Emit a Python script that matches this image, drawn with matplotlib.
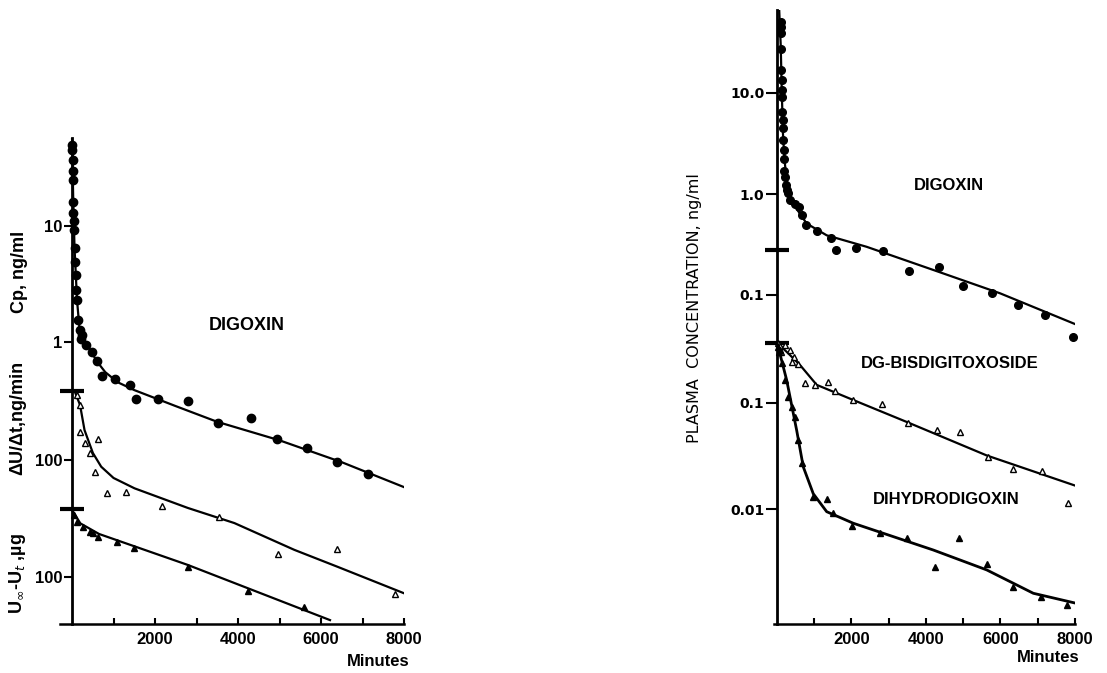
import numpy as np
import matplotlib
matplotlib.use('Agg')
import matplotlib.pyplot as plt

# ---- data ----
# left panel: digoxin plasma conc., urinary excretion rate, amount remaining
cp_t = [5, 10, 15, 20, 25, 30, 35, 40, 45, 60, 75, 90, 105, 120, 150, 180, 210,
        241, 337, 474, 594, 715, 1036, 1398, 1542, 2080, 2803, 3526, 4306, 4932,
        5670, 6393, 7140]
cp_v = [50, 45, 37, 30, 25, 16, 13, 11, 9.3, 6.5, 4.9, 3.8, 2.8, 2.3, 1.55, 1.26, 1.07,
        1.15, 0.94, 0.82, 0.68, 0.51, 0.48, 0.43, 0.32, 0.32, 0.31, 0.20, 0.22, 0.145,
        0.121, 0.092, 0.073]
cp_fit_t = [0, 30, 60, 120, 180, 250, 400, 600, 800, 1100, 1500, 2500, 3500, 5000, 6500, 8060]
cp_fit_v = [57, 16, 6.5, 2.3, 1.3, 1.1, 0.9, 0.68, 0.55, 0.45, 0.385, 0.28, 0.205, 0.142, 0.092, 0.055]

du_t = [128, 193, 193, 313, 434, 619, 554, 851, 1301, 2161, 3542, 4971, 6393, 7783]
du_v = [363, 298, 175, 139, 116, 151, 79, 52, 53, 40, 32, 15.5, 17.1, 7.0]
du_fit_t = [60, 130, 193, 301, 502, 703, 1000, 1506, 2791, 3912, 5358, 6400, 8000]
du_fit_v = [394, 340, 298, 181, 115, 87.5, 70, 57, 38.6, 28.6, 16.8, 12.0, 7.1]

u_t = [48, 128, 272, 434, 513, 634, 1077, 1494, 2802, 4248, 5590]
u_v = [342, 300, 272, 246, 241, 220, 199, 177, 121, 76, 55]
u_fit_t = [0, 200, 650, 1988, 2791, 6217]
u_fit_v = [379, 290, 235, 160, 127, 42.5]

# right panel: digoxin and its metabolites
dg_t = [100, 105, 110, 115, 120, 125, 130, 135, 140, 150, 160, 170, 180, 190, 200, 215, 230,
        268, 295, 349, 483, 599, 663, 779, 1066, 1442, 1584, 2121, 2838, 3552, 4349,
        5001, 5764, 6478, 7195, 7938]
dg_v = [50, 45, 39, 27, 17, 13.5, 10.7, 9.1, 6.5, 5.4, 4.5, 3.4, 2.7, 2.2, 1.7, 1.47, 1.23,
        1.1, 1.02, 0.87, 0.80, 0.75, 0.62, 0.49, 0.43, 0.37, 0.28, 0.29, 0.275, 0.173, 0.19,
        0.124, 0.104, 0.080, 0.063, 0.0387]
dg_fit_t = [60, 100, 130, 160, 200, 260, 394, 600, 797, 1334, 2408, 4196, 5987, 8089]
dg_fit_v = [66, 30, 10, 4, 2.2, 1.38, 0.87, 0.65, 0.51, 0.39, 0.30, 0.177, 0.104, 0.050]

bis_t = [40, 80, 120, 215, 349, 464, 395, 572, 752, 1020, 1377, 1557, 2048, 2811, 3525,
         4287, 4913, 5673, 6344, 7106, 7820]
bis_v = [0.36, 0.34, 0.30, 0.35, 0.31, 0.27, 0.24, 0.23, 0.154, 0.147, 0.157, 0.13, 0.106,
         0.097, 0.065, 0.056, 0.053, 0.031, 0.024, 0.023, 0.0114]
bis_fit_t = [20, 304, 617, 1066, 2048, 3482, 5630, 8089]
bis_fit_v = [0.36, 0.29, 0.226, 0.147, 0.106, 0.066, 0.032, 0.0163]

dh_t = [30, 60, 80, 126, 215, 303, 395, 483, 572, 663, 974, 1334, 1511, 2005, 2765, 3482,
        4242, 4894, 5646, 6344, 7079, 7793]
dh_v = [0.33, 0.30, 0.31, 0.234, 0.163, 0.114, 0.092, 0.074, 0.045, 0.027, 0.0131, 0.0124,
        0.0092, 0.0069, 0.0060, 0.00535, 0.00286, 0.00535, 0.0031, 0.00188, 0.00151, 0.00126]
dh_fit_t = [8, 260, 529, 706, 974, 1334, 2048, 4196, 5630, 6881, 8045]
dh_fit_v = [0.36, 0.163, 0.055, 0.025, 0.014, 0.0095, 0.0074, 0.00415, 0.0027, 0.00163, 0.00131]

x_ticks = [1000, 2000, 3000, 4000, 5000, 6000, 7000, 8000]
x_labels = ['', '2000', '', '4000', '', '6000', '', '8000']

W, H = 1107, 673
fig = plt.figure(figsize=(W / 100, H / 100), dpi=100)

LEFT_FONT = ['Liberation Sans', 'DejaVu Sans']
RIGHT_FONT = ['DejaVu Sans']


def rect(x0, x1, top, bottom):
    return [x0 / W, 1 - bottom / H, (x1 - x0) / W, (bottom - top) / H]


def ylims(ref, ref_px, decade_px, top_px, bottom_px):
    lg = np.log10(ref)
    return (10 ** (lg - (bottom_px - ref_px) / decade_px),
            10 ** (lg + (ref_px - top_px) / decade_px))


def make_axes(r, xlim, ylim, base=None):
    ax = fig.add_axes(r, sharex=base)
    ax.set_facecolor('none')
    ax.set_yscale('log')
    ax.set_xlim(*xlim)
    ax.set_ylim(*ylim)
    for s in ['top', 'right']:
        ax.spines[s].set_visible(False)
    ax.spines['left'].set_position(('data', 0))
    ax.spines['left'].set_linewidth(2)
    ax.spines['bottom'].set_linewidth(1.8)
    ax.yaxis.set_minor_locator(matplotlib.ticker.NullLocator())
    if base is not None:
        ax.spines['left'].set_visible(False)
        ax.spines['bottom'].set_visible(False)
        ax.tick_params(axis='x', bottom=False, labelbottom=False)
    return ax


def yticks(ax, vals, labels, bar, font, size, ticklen):
    ax.set_yticks(vals)
    ax.set_yticklabels(labels, fontfamily=font, fontweight='bold', fontsize=size)
    ax.tick_params(axis='y', which='major', direction='out', length=ticklen, width=1.5, pad=1)
    if bar is not None:
        ax.set_yticks([bar], minor=True)
        ax.set_yticklabels([''], minor=True)
        ax.tick_params(axis='y', which='minor', direction='inout', length=17, width=3)


def xaxis(ax, font):
    ax.set_xticks(x_ticks)
    ax.set_xticklabels(x_labels, fontfamily=font, fontweight='bold', fontsize=12)
    ax.tick_params(axis='x', direction='in', length=4, width=1.5, pad=6)


# ---------------- left panel ----------------
lr = rect(60, 404, 138, 624)
lx = (-290, 8000)
ax_cp = make_axes(lr, lx, ylims(10, 226, 116, 138, 624))
ax_du = make_axes(lr, lx, ylims(100, 460, 116, 138, 624), base=ax_cp)
ax_u = make_axes(lr, lx, ylims(100, 577, 116, 138, 624), base=ax_cp)

ax_cp.plot(cp_fit_t, cp_fit_v, color='black', lw=1.6)
ax_cp.plot(cp_t, cp_v, 'o', color='black', ms=6, clip_on=False)
ax_du.plot(du_fit_t, du_fit_v, color='black', lw=1.6)
ax_du.plot(du_t, du_v, '^', mfc='white', mec='black', mew=1, ms=4.5, clip_on=False)
ax_u.plot(u_fit_t, u_fit_v, color='black', lw=1.6)
ax_u.plot(u_t, u_v, '^', color='black', ms=5, clip_on=False)

yticks(ax_cp, [10, 1], ['10', '1'], None, LEFT_FONT, 12, 6)
yticks(ax_du, [100], ['100'], 394, LEFT_FONT, 12, 6)
yticks(ax_u, [100], ['100'], 385, LEFT_FONT, 12, 6)
xaxis(ax_cp, LEFT_FONT)


def px(x, y):
    return x / W, 1 - y / H


fig.text(*px(19, 272), 'Cp, ng/ml', rotation=90, ha='center', va='center',
         fontfamily=LEFT_FONT, fontweight='bold', fontsize=13)
fig.text(*px(18, 418), 'ΔU/Δt,ng/min', rotation=90, ha='center', va='center',
         fontfamily=LEFT_FONT, fontweight='bold', fontsize=13)
fig.text(*px(17, 574), r'U$_{\infty}$-U$_t$ ,µg', rotation=90, ha='center', va='center',
         fontfamily=LEFT_FONT, fontweight='bold', fontsize=13)
fig.text(*px(247, 325), 'DIGOXIN', ha='center', va='center',
         fontfamily=LEFT_FONT, fontweight='bold', fontsize=13)
fig.text(*px(410, 662), 'Minutes', ha='right', va='center',
         fontfamily=LEFT_FONT, fontweight='bold', fontsize=12)

# ---------------- right panel ----------------
rr = rect(774, 1075, 10, 624)
rx = (-80, 8000)
ax_dg = make_axes(rr, rx, ylims(1, 194, 101, 10, 624))
ax_met = make_axes(rr, rx, ylims(0.1, 402.7, 106.6, 10, 624), base=ax_dg)

ax_dg.plot(dg_fit_t, dg_fit_v, color='black', lw=1.6)
ax_dg.plot(dg_t, dg_v, 'o', color='black', ms=5.5, clip_on=False)
ax_met.plot(bis_fit_t, bis_fit_v, color='black', lw=1.6)
ax_met.plot(bis_t, bis_v, '^', mfc='white', mec='black', mew=1, ms=4.5, clip_on=False)
ax_met.plot(dh_fit_t, dh_fit_v, color='black', lw=2)
ax_met.plot(dh_t, dh_v, '^', color='black', ms=5, clip_on=False)

yticks(ax_dg, [10, 1, 0.1], ['10.0', '1.0', '0.1'], 0.279, RIGHT_FONT, 10, 8)
yticks(ax_met, [0.1, 0.01], ['0.1', '0.01'], 0.363, RIGHT_FONT, 10, 8)
xaxis(ax_dg, LEFT_FONT)

fig.text(*px(695, 308), 'PLASMA  CONCENTRATION, ng/ml', rotation=90, ha='center', va='center',
         fontfamily=RIGHT_FONT, fontsize=11.5)
fig.text(*px(949, 185), 'DIGOXIN', ha='center', va='center',
         fontfamily=LEFT_FONT, fontweight='bold', fontsize=12)
fig.text(*px(950, 363), 'DG-BISDIGITOXOSIDE', ha='center', va='center',
         fontfamily=LEFT_FONT, fontweight='bold', fontsize=12)
fig.text(*px(946, 500), 'DIHYDRODIGOXIN', ha='center', va='center',
         fontfamily=LEFT_FONT, fontweight='bold', fontsize=12)
fig.text(*px(1080, 658), 'Minutes', ha='right', va='center',
         fontfamily=LEFT_FONT, fontweight='bold', fontsize=12)

fig.savefig('out.png', dpi=100)
